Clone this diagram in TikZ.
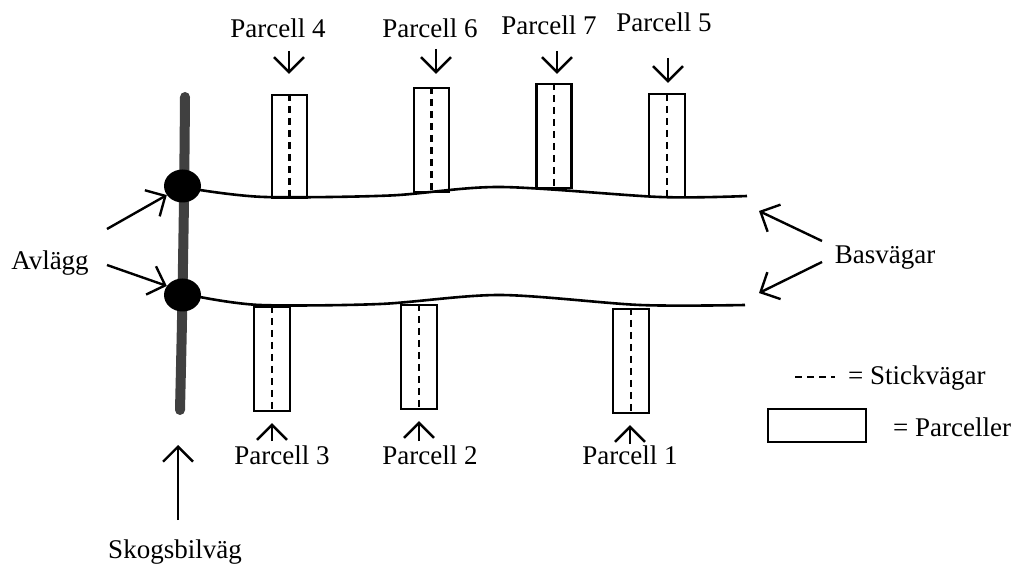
\documentclass[tikz,border=0pt]{standalone}
\usepackage{fontspec}
\setmainfont{Liberation Serif}
\usetikzlibrary{arrows.meta,calc,shapes.geometric}
\begin{document}
\begin{tikzpicture}[x=1pt,y=-1pt,
  every node/.style={font=\fontsize{27}{31}\selectfont, inner sep=0pt},
  arr/.style={line width=2.4pt,-{Straight Barb[length=15pt,width=30pt]}},
  parc/.style={draw, line width=2.4pt, minimum width=35pt, minimum height=103pt, inner sep=0pt},
  parcopen/.style={minimum width=36pt, minimum height=102pt, inner sep=0pt},
  stick/.style={line width=2.2pt, dash pattern=on 7pt off 5pt},
  road/.style={line width=2.6pt},
  dot/.style={fill=black, ellipse, minimum width=37pt, minimum height=33pt, inner sep=0pt}]
\useasboundingbox (0,0) rectangle (1012,569);

% Skogsbilvag (main road)
\draw[line width=10pt, color=black!75, line cap=round]
  plot[smooth] coordinates {(185,97) (184,200) (182,320) (180,410)};

% roads
\draw[road] plot[smooth] coordinates {(200,190) (265,197) (390,195.5) (500,187) (660,197) (747,196)};
\draw[road] plot[smooth] coordinates {(200,297) (260,305) (380,304) (500,295) (640,305) (745,305)};

% landing dots
\node[dot] (d1) at (182.5,186) {};
\node[dot] (d2) at (182.5,295) {};

% parcels (top)
\node[parc] (p4) at (289.5,146.5) {};
\node[parc, minimum height=104pt] (p6) at (431.5,140) {};
\node[parc, minimum height=104pt] (p7) at (554,136) {};
\node[parcopen] (p5) at (667,145) {};
\draw[line width=2.4pt] (p5.south west) -- (p5.north west) -- (p5.north east) -- (p5.south east);
% parcels (bottom)
\node[parc, minimum width=36pt, minimum height=104pt] (p3) at (272,359) {};
\node[parc, minimum width=36pt, minimum height=104pt] (p2) at (419,357) {};
\node[parc, minimum width=36pt, minimum height=104pt] (p1) at (631,361) {};

% strip roads
\foreach \p in {p4,p6,p7,p3,p2,p1} \draw[stick] (\p.north) -- (\p.south);
\draw[stick] (p5.north) -- ($(p5.south)+(0,3)$);

% labels top
\node (l4) at (278,28) {Parcell 4};
\node (l6) at (430,28) {Parcell 6};
\node (l7) at (549,25) {Parcell 7};
\node (l5) at (664,22) {Parcell 5};
\draw[arr] ($(p4.north)+(-0.5,-43)$) -- ($(p4.north)+(-0.5,-20)$);
\draw[arr] ($(p6.north)+(4.5,-38)$) -- ($(p6.north)+(4.5,-13)$);
\draw[arr] ($(p7.north)+(3,-32)$) -- ($(p7.north)+(3,-9)$);
\draw[arr] ($(p5.north)+(1,-36)$) -- ($(p5.north)+(1,-11)$);

% labels bottom
\node (l3) at (282,455) {Parcell 3};
\node (l2) at (430,455) {Parcell 2};
\node (l1) at (630,455) {Parcell 1};
\draw[arr] ($(p3.south)+(0,29)$) -- ($(p3.south)+(0,11)$);
\draw[arr] ($(p2.south)+(0,31)$) -- ($(p2.south)+(0,11)$);
\draw[arr] ($(p1.south)+(-1,30)$) -- ($(p1.south)+(-1,11)$);

% Skogsbilvag label
\node (sk) at (175,552) {Skogsbilväg};
\coordinate (skt) at (178,520);
\coordinate (skh) at (178,445);
\draw[arr] (skt) -- (skh);

% Avlagg
\node (av) at (50,263) {Avlägg};
\draw[arr] (107,229) -- (d1.210);
\draw[arr] (107,265) -- (d2.150);

% Basvagar
\node (bv) at (885,258) {Basvägar};
\coordinate (b1) at (759,211);
\coordinate (b2) at (759,293);
\draw[arr] (822,241) -- (b1);
\draw[arr] (822,262) -- (b2);

% legend
\coordinate (ls1) at (795,377);
\coordinate (ls2) at (835,377);
\draw[stick] (ls1) -- (ls2);
\node[anchor=west] (lt1) at (848,378) {= Stickvägar};
\node[draw, line width=2.4pt, minimum width=98pt, minimum height=33pt] (lr) at (817,425.5) {};
\node[anchor=west] (lt2) at (893,427) {= Parceller};
\end{tikzpicture}
\end{document}
